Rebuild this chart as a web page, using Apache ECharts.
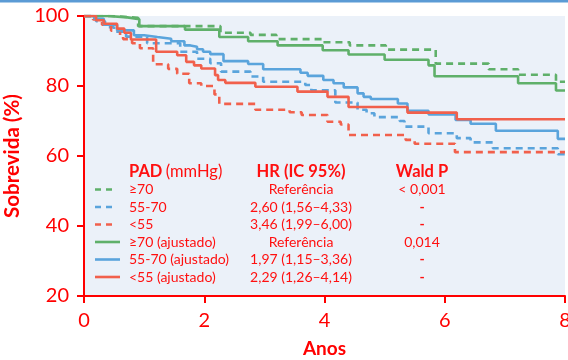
<!DOCTYPE html>
<html>
<head>
<meta charset="utf-8">
<script src="https://cdn.jsdelivr.net/npm/echarts@6/dist/echarts.min.js"></script>
<style>
html,body{margin:0;padding:0;background:#fff;}
#c{width:568px;height:360px;}
</style>
</head>
<body>
<div id="c"></div>
<script>
// ---- data ----
const xTicks = [0, 2, 4, 6, 8];
const yTicks = [20, 40, 60, 80, 100];

const g70T = [0, 0.45, 0.9, 2.27, 2.77, 3.2, 3.98, 4.42, 5.02, 5.85, 6.73, 7.22, 7.85, 8];
const g70S = [100, 99.5, 97.1, 95.2, 94.6, 93.4, 92.5, 91.6, 90.4, 86.4, 84.8, 83.2, 81.2, 81.2];

const b5570T = [0, 0.2, 0.35, 0.5, 0.7, 1.05, 1.6, 1.88, 2.1, 2.28, 2.77, 2.98, 3.68, 3.78, 4.18, 4.55, 4.7, 4.83, 5.25, 5.33, 5.73, 6.2, 6.43, 6.8, 7.88, 8];
const b5570S = [100, 98.5, 96.8, 95.5, 94.1, 92.2, 89.8, 87.8, 86.5, 84.1, 82.7, 81.2, 80.3, 78.8, 75.3, 73.2, 72.2, 71.1, 70.0, 68.4, 66.5, 65.1, 63.9, 62.2, 60.5, 60.5];

const r55T = [0, 0.15, 0.3, 0.45, 0.6, 0.65, 0.8, 0.93, 1.15, 1.4, 1.55, 1.75, 1.95, 2.17, 2.25, 2.85, 3.42, 3.62, 4.05, 4.27, 4.4, 5.35, 5.5, 6.17, 8];
const r55S = [100, 99, 97.5, 95.8, 94.5, 93.4, 92.2, 90.8, 86.2, 84.9, 83.5, 80.8, 80.0, 77.6, 74.9, 73.2, 72.5, 71.7, 69.8, 69.0, 66.0, 64.6, 63.5, 61.1, 61.1];

const g70aT = [0, 0.4, 0.72, 0.92, 1.68, 2.25, 2.73, 3.22, 3.97, 4.4, 5.0, 5.73, 5.83, 7.22, 7.85, 8];
const g70aS = [100, 99.6, 99.1, 97.1, 96.1, 94.0, 92.8, 91.6, 90.2, 89.0, 87.5, 85.9, 82.8, 80.8, 78.7, 78.7];

const b5570aT = [0, 0.17, 0.33, 0.55, 0.83, 1.0, 1.22, 1.45, 1.67, 1.77, 1.88, 1.98, 2.1, 2.32, 2.73, 2.98, 3.6, 3.72, 3.98, 4.15, 4.32, 4.55, 4.65, 4.77, 5.22, 5.38, 5.73, 6.18, 6.43, 6.85, 7.88, 8];
const b5570aS = [100, 99.2, 97.5, 95.9, 94.5, 94.0, 93.5, 92.8, 91.6, 91.2, 90.5, 89.8, 89.1, 87.1, 86.3, 84.8, 83.8, 82.9, 81.7, 80.8, 79.6, 77.9, 76.9, 76.3, 75.0, 72.9, 71.9, 70.3, 69.2, 67.2, 64.9, 64.9];

const r55aT = [0, 0.2, 0.33, 0.55, 0.67, 0.78, 1.2, 1.55, 1.7, 1.83, 1.95, 2.18, 2.23, 2.35, 2.85, 3.55, 4.05, 4.4, 5.38, 6.2, 8];
const r55aS = [100, 98.8, 97.8, 96.4, 95.2, 93.3, 89.8, 88.8, 86.9, 85.9, 85.0, 83.1, 81.7, 80.9, 79.8, 78.4, 76.9, 74.0, 72.4, 70.5, 70.5];

const groupLabels = ['≥70', '55-70', '<55', '≥70 (ajustado)', '55-70 (ajustado)', '<55 (ajustado)'];
const hrLabels = ['Referência', '2,60 (1,56–4,33)', '3,46 (1,99–6,00)', 'Referência', '1,97 (1,15–3,36)', '2,29 (1,26–4,14)'];
const waldLabels = ['< 0,001', '-', '-', '0,014', '-', '-'];
const headers = ['PAD', '(mmHg)', 'HR (IC 95%)', 'Wald P'];

// ---- styles ----
const GREEN = '#5fb06a', BLUE = '#5aa4dc', RED = '#f1604c';
const AX = '#ff0000', TXT = '#ff1010';
const FONT = 'Lato, "Noto Sans", sans-serif';

const zip = (t, s) => t.map((v, i) => [v, s[i]]);
const defs = [
  {t: g70T, s: g70S, c: GREEN, dash: true},
  {t: b5570T, s: b5570S, c: BLUE, dash: true},
  {t: r55T, s: r55S, c: RED, dash: true},
  {t: g70aT, s: g70aS, c: GREEN, dash: false},
  {t: b5570aT, s: b5570aS, c: BLUE, dash: false},
  {t: r55aT, s: r55aS, c: RED, dash: false}
];

const series = defs.map((d, i) => ({
  type: 'line',
  name: groupLabels[i],
  step: 'end',
  data: zip(d.t, d.s),
  symbol: 'none',
  silent: true,
  animation: false,
  lineStyle: {color: d.c, width: 2.6, type: d.dash ? [7, 5] : 'solid'},
  z: 2 + i
}));

// legend table graphics
const rowY0 = 189.5, rowStep = 17.5;
const graphics = [
  {type: 'rect', shape: {x: 0, y: 0, width: 568, height: 2.5}, style: {fill: '#5b9bd5'}, z: 10},
  {type: 'text', left: 129, top: 163, style: {
    text: '{b|' + headers[0] + '} {n|' + headers[1] + '}',
    rich: {
      b: {fontFamily: FONT, fontSize: 16.5, fontWeight: 'bold', fill: TXT},
      n: {fontFamily: FONT, fontSize: 16.5, fill: TXT}
    }
  }, z: 20},
  {type: 'text', x: 301, y: 172, style: {text: headers[2], fontFamily: FONT, fontSize: 16.5, fontWeight: 'bold', fill: TXT, align: 'center', verticalAlign: 'middle'}, z: 20},
  {type: 'text', x: 422, y: 172, style: {text: headers[3], fontFamily: FONT, fontSize: 16.5, fontWeight: 'bold', fill: TXT, align: 'center', verticalAlign: 'middle'}, z: 20}
];
defs.forEach((d, i) => {
  const y = rowY0 + i * rowStep;
  graphics.push({type: 'line', shape: {x1: 95, y1: y, x2: d.dash ? 116 : 120, y2: y},
    style: {stroke: d.c, lineWidth: 2.6, lineDash: d.dash ? [6, 5] : null}, z: 20});
  graphics.push({type: 'text', x: 129, y: y, style: {text: groupLabels[i], fontFamily: FONT, fontSize: 14, fill: TXT, align: 'left', verticalAlign: 'middle'}, z: 20});
  graphics.push({type: 'text', x: 301, y: y, style: {text: hrLabels[i], fontFamily: FONT, fontSize: 14, fill: TXT, align: 'center', verticalAlign: 'middle'}, z: 20});
  graphics.push({type: 'text', x: 422, y: y, style: {text: waldLabels[i], fontFamily: FONT, fontSize: 14, fontWeight: waldLabels[i] === '-' ? 'bold' : 'normal', fill: TXT, align: 'center', verticalAlign: 'middle'}, z: 20});
});

const chart = echarts.init(document.getElementById('c'), null, {renderer: 'canvas'});
chart.setOption({
  animation: false,
  backgroundColor: '#ffffff',
  grid: {left: 84, right: 3, top: 16, bottom: 64, show: true, backgroundColor: '#ebf1f9', borderWidth: 0,
    containLabel: false, outerBoundsMode: 'none'},
  xAxis: {
    type: 'value', min: 0, max: 8, interval: 2,
    name: 'Anos', nameLocation: 'middle', nameGap: 43,
    nameTextStyle: {color: AX, fontFamily: FONT, fontSize: 19, fontWeight: 'bold'},
    axisLine: {show: true, lineStyle: {color: AX, width: 2}},
    axisTick: {show: true, length: 7, lineStyle: {color: AX, width: 2}},
    axisLabel: {color: AX, fontFamily: FONT, fontSize: 20, margin: 15,
      formatter: v => xTicks.includes(v) ? String(v) : ''},
    splitLine: {show: false}
  },
  yAxis: {
    type: 'value', min: 20, max: 100, interval: 20,
    name: 'Sobrevida (%)', nameLocation: 'middle', nameGap: 58,
    nameTextStyle: {color: AX, fontFamily: FONT, fontSize: 20.5, fontWeight: 'bold'},
    axisLine: {show: true, lineStyle: {color: AX, width: 2}},
    axisTick: {show: true, length: 7, lineStyle: {color: AX, width: 2}},
    axisLabel: {color: AX, fontFamily: FONT, fontSize: 20, margin: 15,
      formatter: v => yTicks.includes(v) ? String(v) : ''},
    splitLine: {show: false}
  },
  series: series,
  graphic: graphics
});
</script>
</body>
</html>
